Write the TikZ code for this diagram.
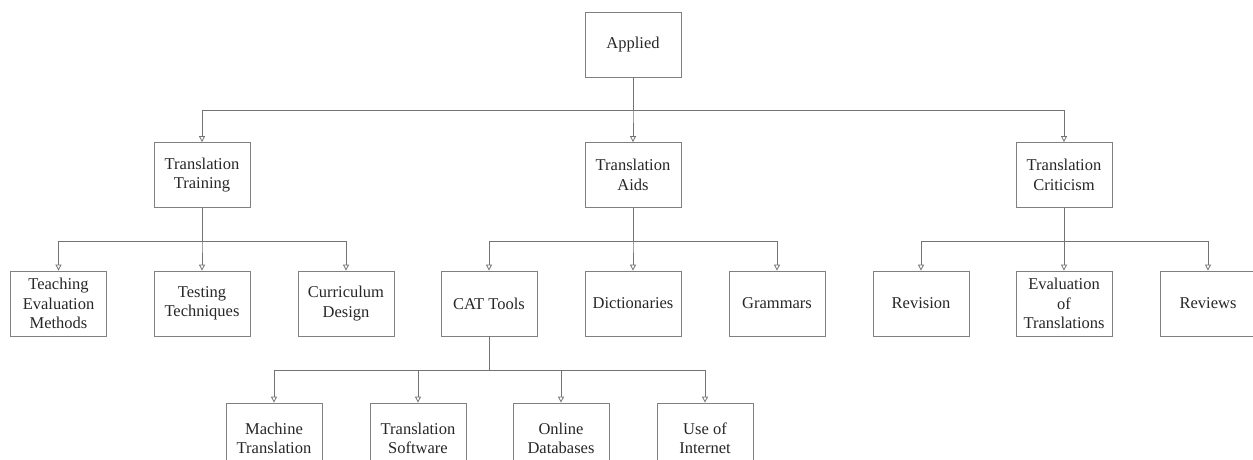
\documentclass[tikz,border=0pt]{standalone}
\usepackage{fontspec}
\setmainfont{Liberation Serif}
\usetikzlibrary{arrows.meta}
\begin{document}
\begin{tikzpicture}[x=1pt,y=1pt,
  box/.style={draw=black!50, line width=0.8pt, minimum width=96pt, minimum height=65pt, align=center, inner sep=1pt,
    font=\fontsize{16.5}{19.5}\selectfont, text=black!85},
  tallbox/.style={box, minimum height=71pt},
  conn/.style={draw=black!55, line width=0.8pt, -{Triangle[open, length=6pt, width=6pt]}}]
\useasboundingbox (0,0) rectangle (1253,-459);
\clip (0,0) rectangle (1253,-459);
% level 0
\node[box] (app) at (633,-44.5) {Applied};
% level 1
\node[box] (tt) at (202,-175) {Translation\\Training};
\node[box] (ta) at (633,-175) {Translation\\Aids};
\node[box] (tc) at (1064,-175) {Translation\\Criticism};
% level 2
\node[box] (tem) at (58.5,-303.5) {Teaching\\Evaluation\\Methods};
\node[box] (tte) at (202,-303.5) {Testing\\Techniques};
\node[box] (cd) at (346,-303.5) {Curriculum\\Design};
\node[box] (cat) at (489,-303.5) {CAT Tools};
\node[box] (dic) at (633,-303.5) {Dictionaries};
\node[box] (gra) at (777,-303.5) {Grammars};
\node[box] (rev) at (921,-303.5) {Revision};
\node[box] (eot) at (1064,-303.5) {Evaluation\\of\\Translations};
\node[box] (rvw) at (1208,-303.5) {Reviews};
% level 3
\node[tallbox] (mt) at (274,-438.5) {Machine\\Translation};
\node[tallbox] (ts) at (418,-438.5) {Translation\\Software};
\node[tallbox] (od) at (561,-438.5) {Online\\Databases};
\node[tallbox] (ui) at (705,-438.5) {Use of\\Internet};
% connectors
\foreach \c in {tt,ta,tc} \draw[conn] (app.south) -- ++(0,-33) -| (\c.north);
\foreach \c in {tem,tte,cd} \draw[conn] (tt.south) -- ++(0,-33) -| (\c.north);
\foreach \c in {cat,dic,gra} \draw[conn] (ta.south) -- ++(0,-33) -| (\c.north);
\foreach \c in {rev,eot,rvw} \draw[conn] (tc.south) -- ++(0,-33) -| (\c.north);
\foreach \c in {mt,ts,od,ui} \draw[conn] (cat.south) -- ++(0,-33.5) -| (\c.north);
\end{tikzpicture}
\end{document}
